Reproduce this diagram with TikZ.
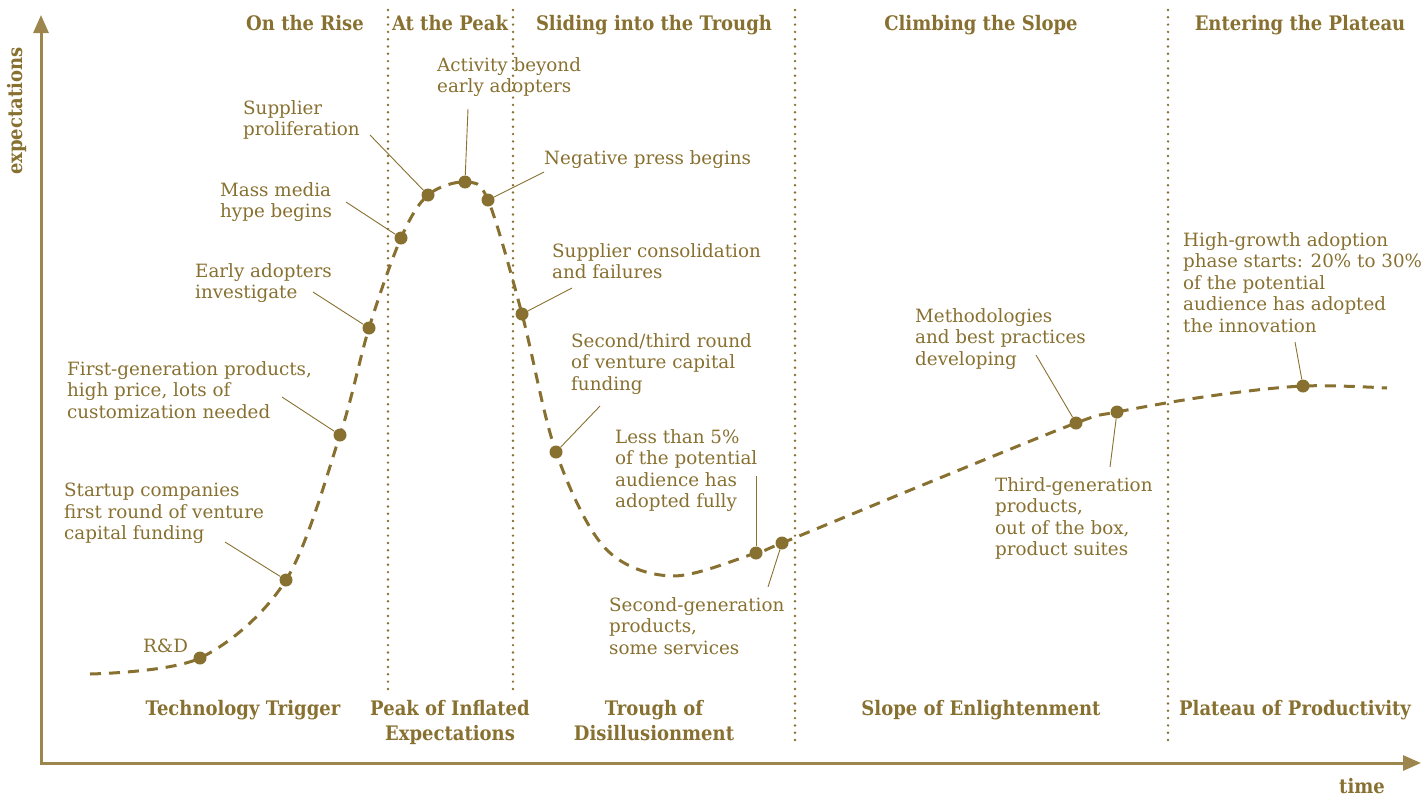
\documentclass[tikz,border=0pt]{standalone}
\usepackage{fontspec}
\setmainfont{DejaVu Serif}
\newfontfamily\headfont{DejaVu Serif}[FakeStretch=0.9]
\usetikzlibrary{arrows.meta}
\definecolor{gold}{RGB}{135,112,48}
\definecolor{axisgold}{RGB}{156,134,78}

\begin{document}
\begin{tikzpicture}[
    x=1pt, y=-1pt,
    lbl/.style={anchor=north west, align=left, inner sep=0pt, text=gold, font=\fontsize{18.3}{21.5}\selectfont},
    head/.style={anchor=north, align=center, inner sep=0pt, text=gold, font=\headfont\bfseries\fontsize{20}{25}\selectfont},
    dot/.style={circle, fill=gold, inner sep=0pt, minimum size=13pt},
    leader/.style={draw=gold, line width=0.9pt},
    hype/.style={draw=gold, line width=3pt, dash pattern=on 11pt off 8pt},
    phase/.style={draw=gold, line width=2.7pt, line cap=round, dash pattern=on 0pt off 7.3pt},
    axis/.style={draw=axisgold, line width=3pt, {Triangle[width=15pt,length=18pt]}-{Triangle[width=15pt,length=18pt]}}
]
\useasboundingbox (0,0) rectangle (1427,796);

% AXES
\coordinate (ytip) at (41,15);
\coordinate (xtip) at (1421,763);
\draw[axis] (ytip) |- (xtip);
\node[head, anchor=center, rotate=90] (ylab) at (17,111) {expectations};
\node[head, anchor=base] (xlab) at (1362,793) {time};

% PHASE BORDERS
\foreach \x/\b in {388/690, 513/690, 795/740, 1168/740}
    \draw[phase] (\x,10) -- (\x,\b);

% PHASE NAMES (top)
\node[head] (rise) at (305,15) {On the Rise};
\node[head] (peak) at (450,15) {At the Peak};
\node[head] (slide) at (654,15) {Sliding into the Trough};
\node[head] (climb) at (981,15) {Climbing the Slope};
\node[head] (enter) at (1300,15) {Entering the Plateau};

% PHASE NAMES (bottom)
\node[head] (trigger) at (243,700) {Technology Trigger};
\node[head] (inflated) at (450,700) {Peak of Inflated\\Expectations};
\node[head] (trough) at (654,700) {Trough of\\Disillusionment};
\node[head] (slope) at (981,700) {Slope of Enlightenment};
\node[head] (plateau) at (1295,700) {Plateau of Productivity};

% EVENTS ON THE CURVE
\node[dot] (rd) at (200,658) {};
\node[dot] (st) at (286,580) {};
\node[dot] (fg) at (340,435) {};
\node[dot] (ea) at (369,328) {};
\node[dot] (mm) at (401,238) {};
\node[dot] (sp) at (428,195) {};
\node[dot] (ab) at (465,182) {};
\node[dot] (np) at (488,200) {};
\node[dot] (sc) at (522,314) {};
\node[dot] (vc) at (556,452) {};
\node[dot] (lt) at (756,553) {};
\node[dot] (sg) at (782,543) {};
\node[dot] (me) at (1076,423) {};
\node[dot] (tg) at (1117,412) {};
\node[dot] (hg) at (1303,386) {};

% Hype curve
\draw[hype] plot[smooth, tension=0.55] coordinates {(90,674) (rd.center) (st.center) (fg.center) (ea.center) (mm.center) (sp.center) (ab.center) (np.center) (sc.center) (vc.center) (605,548) (672,576) (lt.center) (sg.center) (930,482) (me.center) (tg.center) (1210,396) (hg.center) (1387,388)};

% LABELS
\node[lbl] (rd-t) at (143,639) {R\&D};
\node[lbl] (st-t) at (64,483) {Startup companies\\first round of venture\\capital funding};
\node[lbl] (fg-t) at (67,361) {First-generation products,\\high price, lots of\\customization needed};
\node[lbl] (ea-t) at (195,263) {Early adopters\\investigate};
\node[lbl] (mm-t) at (220,182) {Mass media\\hype begins};
\node[lbl] (sp-t) at (243,100) {Supplier\\proliferation};
\node[lbl] (ab-t) at (437,57) {Activity beyond\\early adopters};
\node[lbl] (np-t) at (544,150) {Negative press begins};
\node[lbl] (sc-t) at (552,243) {Supplier consolidation\\and failures};
\node[lbl] (vc-t) at (571,333) {Second/third round\\of venture capital\\funding};
\node[lbl] (lt-t) at (615,429) {Less than 5\%\\of the potential\\audience has\\adopted fully};
\node[lbl] (sg-t) at (609,597) {Second-generation\\products,\\some services};
\node[lbl] (me-t) at (915,308) {Methodologies\\and best practices\\developing};
\node[lbl] (tg-t) at (995,477) {Third-generation\\products,\\out of the box,\\product suites};
\node[lbl] (hg-t) at (1183,232) {High-growth adoption\\phase starts: 20\% to 30\%\\of the potential\\audience has adopted\\the innovation};

% Leader lines
\coordinate (st-l) at (225,542);
\coordinate (fg-l) at (282,397);
\coordinate (ea-l) at (313,292);
\coordinate (mm-l) at (346,202);
\coordinate (sp-l) at (370,135);
\coordinate (ab-l) at (468,109);
\coordinate (np-l) at (544,172);
\coordinate (sc-l) at (572,288);
\coordinate (vc-l) at (600,406);
\coordinate (lt-l) at (756,476);
\coordinate (sg-l) at (768,587);
\coordinate (me-l) at (1036,355);
\coordinate (tg-l) at (1110,467);
\coordinate (hg-l) at (1295,342);
\foreach \e in {st, fg, ea, mm, sp, ab, np, sc, vc, lt, sg, me, tg, hg}
    \draw[leader] (\e-l) -- (\e);

\end{tikzpicture}
\end{document}
